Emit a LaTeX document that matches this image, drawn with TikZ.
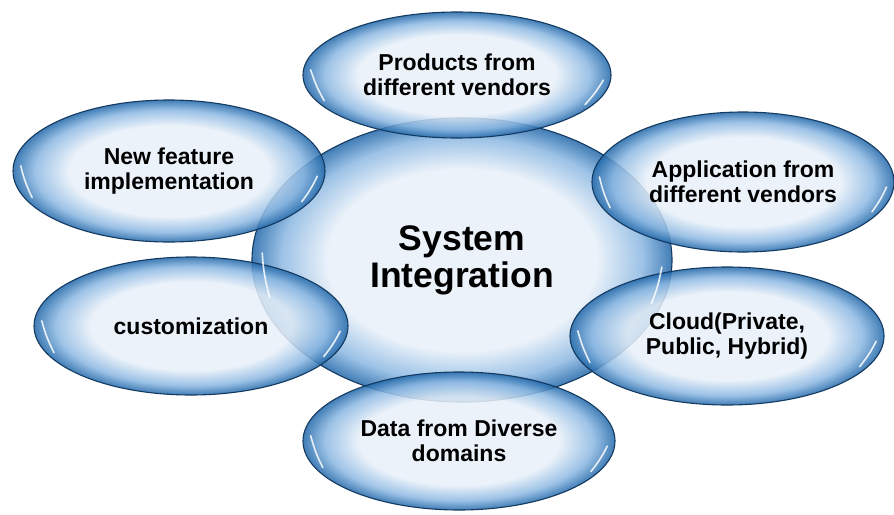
\documentclass[tikz,border=0pt]{standalone}
\usepackage{fontspec}
\setmainfont{Liberation Sans}
\usetikzlibrary{shapes,calc}
\definecolor{bubIn}{RGB}{232,240,249}
\definecolor{bubMid}{RGB}{140,184,226}
\definecolor{bubRim}{RGB}{34,104,170}
\definecolor{bubLine}{RGB}{20,58,96}
\pgfdeclareradialshading{bubshade}{\pgfpoint{0bp}{0bp}}{color(0bp)=(bubIn); color(16bp)=(bubIn); color(21.5bp)=(bubMid); color(25bp)=(bubRim); color(50bp)=(bubRim)}
\tikzset{
  bubble/.style={ellipse, draw=bubLine, line width=1.1pt, shade, shading=bubshade,
    fill opacity=0.86, draw opacity=1, text opacity=1, align=center, inner sep=0pt,
    font=\bfseries\fontsize{23}{24.5}\selectfont},
  shine/.style={white, line width=1.6pt, line cap=round, opacity=0.85},
}

\begin{document}
\begin{tikzpicture}[x=1pt,y=-1pt]
  \useasboundingbox (0,0) rectangle (894,514);
  \node[bubble, minimum width=420pt, minimum height=284pt, font=\bfseries\fontsize{35.5}{37}\selectfont] (sys) at (462,260) {System\\Integration};
  \node[bubble, minimum width=308pt, minimum height=126pt] (prod) at (457,75) {Products from\\different vendors};
  \node[bubble, minimum width=312pt, minimum height=142pt] (feat) at (169,171) {New feature\\implementation};
  \node[bubble, minimum width=302pt, minimum height=140pt] (app) at (743,182) {Application from\\different vendors};
  \node[bubble, minimum width=314pt, minimum height=138pt] (cust) at (191,326) {customization};
  \node[bubble, minimum width=314pt, minimum height=138pt] (cloud) at (727,336) {Cloud(Private,\\Public, Hybrid)};
  \node[bubble, minimum width=312pt, minimum height=138pt] (data) at (459,441) {Data from Diverse\\domains};
  % glossy streaks
  \foreach \n in {sys,prod,feat,app,cust,cloud,data} {
    \draw[shine] ($(\n.center)!0.95!(\n.178)$) to[bend right=6] ($(\n.center)!0.95!(\n.191)$);
    \draw[shine] ($(\n.center)!0.95!(\n.-13)$) to[bend right=6] ($(\n.center)!0.95!(\n.-2)$);
  }
\end{tikzpicture}
\end{document}
